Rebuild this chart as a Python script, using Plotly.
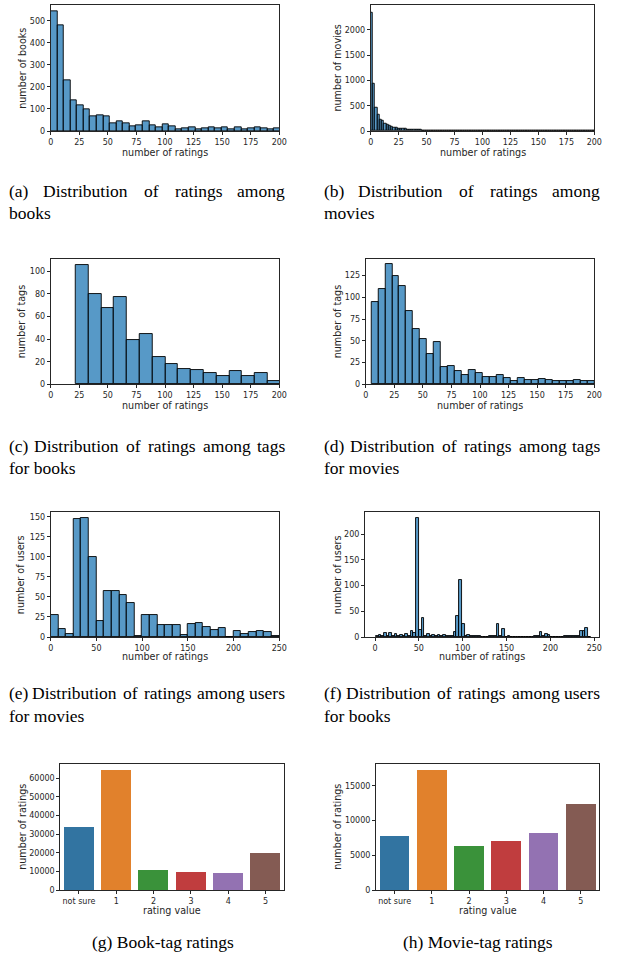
import plotly.graph_objects as go

# ---------------- DATA ----------------
# (a) books: histogram of number of ratings per book
a_bin_start = 0.0
a_bin_width = 5.75
a_counts = [541, 480, 228, 140, 118, 98, 68, 71, 66, 36, 44, 33, 20, 24, 42, 27, 18,
            30, 20, 8, 14, 17, 8, 12, 17, 11, 17, 9, 18, 9, 14, 17, 11, 6, 11]

# (b) movies
b_bin_start = 0.0
b_bin_width = 2.0
b_counts = [2350, 930, 470, 315, 232, 200, 152, 115, 100, 85, 70, 60, 52, 46, 40, 36,
            32, 28, 26, 23, 21, 19, 17, 15, 14, 13, 12, 11, 10, 10, 9, 9, 8, 8, 7, 7,
            7, 6, 6, 6, 5, 5, 5, 4, 4, 4, 4, 4, 3, 3, 3, 3, 3, 3, 3, 2, 2, 2, 2, 2,
            2, 2, 2, 2, 2, 2, 2, 2, 1, 1, 2, 1, 1, 1, 1, 1, 1, 1, 1, 1, 1, 1, 1, 0,
            1, 1, 0, 1, 1, 0, 1, 0, 0, 1, 0, 0, 0, 0, 0, 0]

# (c) tags for books
c_bin_start = 21.9
c_bin_width = 11.2
c_counts = [106, 80, 68, 77, 39, 45, 24, 18, 14, 13, 10, 7, 12, 7, 10, 3]

# (d) tags for movies
d_bin_start = 4.9
d_bin_width = 6.1
d_counts = [95, 109, 138, 124, 113, 84, 63, 52, 35, 49, 20, 21, 15, 11, 17, 13, 8, 8,
            11, 7, 4, 7, 5, 5, 6, 5, 4, 4, 4, 5, 4, 4]

# (e) users for movies
e_bin_start = 0.0
e_bin_width = 8.333
e_counts = [27, 10, 4, 147, 149, 100, 20, 57, 57, 52, 43, 1, 27, 27, 15, 15, 15, 3,
            16, 17, 12, 9, 11, 0, 8, 4, 6, 8, 6, 1]

# (f) users for books
f_bin_start = 1.0
f_bin_width = 3.0625
f_counts = [1, 3, 1, 8, 2, 8, 2, 5, 2, 3, 2, 5, 2, 12, 8, 232, 13, 37, 2, 6,
            2, 4, 1, 3, 1, 3, 1, 1, 2, 9, 41, 110, 26, 1, 3, 1, 1, 1, 1, 0,
            0, 0, 2, 1, 2, 25, 1, 16, 0, 2, 0, 0, 0, 0, 0, 0, 0, 0, 0, 1,
            1, 10, 2, 6, 3, 0, 0, 0, 0, 0, 1, 1, 1, 1, 2, 1, 11, 11, 17, 0]

# (g) / (h) rating values
rating_labels = ["not sure", "1", "2", "3", "4", "5"]
g_counts = [33750, 64290, 10710, 9640, 9100, 19820]
h_counts = [7790, 17310, 6350, 7070, 8220, 12400]
bar_colors = ["#3274a1", "#e1812c", "#3a923a", "#c03d3e", "#9372b2", "#845b53"]

captions = {
    "a": ["(a) Distribution of ratings among", "books"],
    "b": ["(b) Distribution of ratings among", "movies"],
    "c": ["(c) Distribution of ratings among tags", "for books"],
    "d": ["(d) Distribution of ratings among tags", "for movies"],
    "e": ["(e) Distribution of ratings among users", "for movies"],
    "f": ["(f) Distribution of ratings among users", "for books"],
    "g": ["(g) Book-tag ratings"],
    "h": ["(h) Movie-tag ratings"],
}

# ---------------- LAYOUT ----------------
W, H = 630, 962
HIST_FILL = "rgba(31,119,180,0.75)"
AX_COL = "#262626"
TICK_FONT = dict(family="DejaVu Sans", size=8, color=AX_COL)
TITLE_FONT = dict(family="DejaVu Sans", size=9.6, color=AX_COL)


def px(x):
    return x / W


def py(y):
    return 1 - y / H


def xdom(l, r):
    return [px(l), px(r)]


def ydom(t, b):
    return [py(b), py(t)]


fig = go.Figure()
annotations = []


def add_text(text, x, y, font, anchor="center", angle=0):
    annotations.append(dict(text=text, x=px(x), y=py(y), xref="paper", yref="paper",
                            xanchor=anchor, yanchor="middle", showarrow=False,
                            textangle=angle, font=font))


panels = [
    # key, counts, start, width, box(l,r,t,b), xrange, yrange, xticks, yticks, ytitle, (xtitle_y, ytitle_x)
    ("a", a_counts, a_bin_start, a_bin_width, (50.7, 279.3, 5.3, 131), [0, 200], [0, 570],
     list(range(0, 201, 25)), list(range(0, 501, 100)), "number of books", (153, 21.7)),
    ("b", b_counts, b_bin_start, b_bin_width, (370.7, 594.3, 4.7, 131), [0, 200], [0, 2500],
     list(range(0, 201, 25)), list(range(0, 2001, 500)), "number of movies", (153, 337.7)),
    ("c", c_counts, c_bin_start, c_bin_width, (50.7, 279.3, 259, 384.3), [0, 200], [0, 111],
     list(range(0, 201, 25)), list(range(0, 101, 20)), "number of tags", (405, 21.7)),
    ("d", d_counts, d_bin_start, d_bin_width, (365.7, 594.3, 259, 384.3), [0, 200], [0, 144],
     list(range(0, 201, 25)), list(range(0, 126, 25)), "number of tags", (405, 337.7)),
    ("e", e_counts, e_bin_start, e_bin_width, (50.7, 279.3, 512, 637), [0, 250], [0, 156],
     list(range(0, 251, 50)), list(range(0, 151, 25)), "number of users", (656.7, 20.7)),
    ("f", f_counts, f_bin_start, f_bin_width, (365, 599.3, 512, 637), [-11.4, 255.7], [0, 243],
     list(range(0, 251, 50)), list(range(0, 201, 50)), "number of users", (656.7, 337.7)),
]

axis_common = dict(showline=True, mirror=True, linecolor=AX_COL, linewidth=1,
                   ticks="outside", ticklen=3, tickwidth=1, tickcolor=AX_COL,
                   tickfont=TICK_FONT, showgrid=False, zeroline=False, automargin=False)

layout_axes = {}
idx = 0
for key, counts, start, bw, box, xr, yr, xt, yt, ytitle, tpos in panels:
    idx += 1
    sfx = "" if idx == 1 else str(idx)
    centers = [start + bw * (i + 0.5) for i in range(len(counts))]
    fig.add_trace(go.Bar(x=centers, y=counts, width=bw,
                         marker=dict(color=HIST_FILL, line=dict(color="black", width=0.9)),
                         xaxis="x" + sfx, yaxis="y" + sfx, showlegend=False))
    l, r, t, b = box
    layout_axes["xaxis" + sfx] = dict(domain=xdom(l, r), range=xr, anchor="y" + sfx,
                                      tickvals=xt, **axis_common)
    layout_axes["yaxis" + sfx] = dict(domain=ydom(t, b), range=yr, anchor="x" + sfx,
                                      tickvals=yt, **axis_common)
    add_text("number of ratings", (l + r) / 2, tpos[0], TITLE_FONT)
    add_text(ytitle, tpos[1], (t + b) / 2, TITLE_FONT, angle=-90)

bar_panels = [
    ("g", g_counts, (60.3, 284.3, 764.3, 890), [0, 67400], list(range(0, 60001, 10000)), (910, 21.7)),
    ("h", h_counts, (376, 599.3, 764.3, 890), [0, 18125], list(range(0, 15001, 5000)), (910, 336.7)),
]
for key, counts, box, yr, yt, tpos in bar_panels:
    idx += 1
    sfx = str(idx)
    fig.add_trace(go.Bar(x=rating_labels, y=counts, width=0.8,
                         marker=dict(color=bar_colors, line=dict(width=0)),
                         xaxis="x" + sfx, yaxis="y" + sfx, showlegend=False))
    l, r, t, b = box
    layout_axes["xaxis" + sfx] = dict(domain=xdom(l, r), range=[-0.5, 5.5], type="category",
                                      anchor="y" + sfx, **axis_common)
    layout_axes["yaxis" + sfx] = dict(domain=ydom(t, b), range=yr, anchor="x" + sfx,
                                      tickvals=yt, tickformat="d", **axis_common)
    add_text("rating value", (l + r) / 2, tpos[0], TITLE_FONT)
    add_text("number of ratings", tpos[1], (t + b) / 2, TITLE_FONT, angle=-90)

# ---------------- CAPTIONS (justified like the paper) ----------------
CAP_FS = 17.5
CAP_FONT = dict(family="Liberation Serif", size=CAP_FS, color="black")
TIMES_W = {" ": .25, "(": .333, ")": .333, "-": .333, "a": .444, "b": .5, "c": .444, "d": .5,
           "e": .444, "f": .333, "g": .5, "h": .5, "i": .278, "k": .5, "l": .278, "m": .778,
           "n": .5, "o": .5, "r": .333, "s": .389, "t": .278, "u": .5, "v": .5, "w": .722,
           "D": .722, "B": .667, "M": .889}


def wwidth(word):
    return sum(TIMES_W.get(ch, .5) for ch in word) * CAP_FS


def justified(line, x0, x1, y):
    words = line.split(" ")
    widths = [wwidth(w) for w in words]
    gap = (x1 - x0 - sum(widths)) / (len(words) - 1)
    x = x0
    for i, (w, wd) in enumerate(zip(words, widths)):
        if i == 0:
            add_text(w, x, y, CAP_FONT, anchor="left")
        elif i == len(words) - 1:
            add_text(w, x1, y, CAP_FONT, anchor="right")
        else:
            add_text(w, x + wd / 2, y, CAP_FONT, anchor="center")
        x += wd + gap


cap_pos = {"a": (7, 287, 191, 213), "b": (322, 602, 191, 213),
           "c": (7, 287, 446, 468), "d": (322, 602, 446, 468),
           "e": (7, 287, 693, 716), "f": (322, 602, 693, 716)}
for k, (x0, x1, y1, y2) in cap_pos.items():
    justified(captions[k][0], x0, x1, y1)
    add_text(captions[k][1], x0, y2, CAP_FONT, anchor="left")

add_text(captions["g"][0], 163, 942, CAP_FONT)
add_text(captions["h"][0], 478, 942, CAP_FONT)

fig.update_layout(width=W, height=H, margin=dict(l=0, r=0, t=0, b=0),
                  paper_bgcolor="white", plot_bgcolor="white", bargap=0,
                  annotations=annotations, **layout_axes)

fig.write_html("out.html", config={"displayModeBar": False},
               post_script="document.body.style.margin='0px';")
